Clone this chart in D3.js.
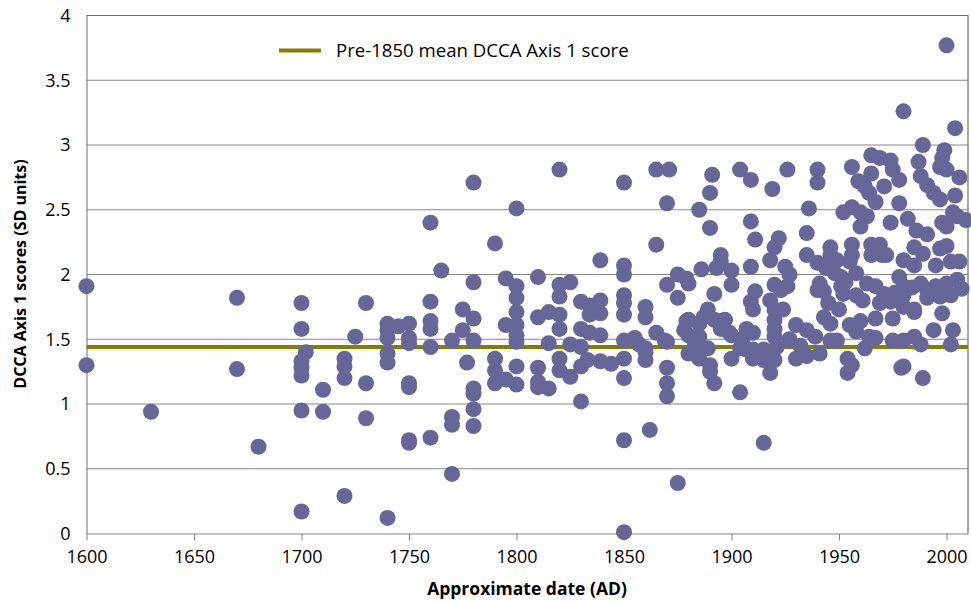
<!DOCTYPE html>
<html>
<head>
<meta charset="utf-8">
<script src="https://cdn.jsdelivr.net/npm/d3@7"></script>
<style>
  html, body { margin: 0; padding: 0; background: #fff; }
  svg { display: block; }
  text { font-family: "Open Sans", "Noto Sans", sans-serif; fill: #000; }
</style>
</head>
<body>
<svg id="chart" width="971" height="601"></svg>
<script>
// Sample dates (AD) and their DCCA Axis 1 scores, paired by index
const years = [
  1600, 1600, 1630, 1670, 1670, 1680,
  1700, 1700, 1702, 1700, 1700, 1700, 1700, 1700,
  1710, 1710, 1720, 1720, 1720, 1720, 1725,
  1730, 1730, 1730,
  1740, 1740, 1740, 1740, 1740, 1740, 1745,
  1750, 1750, 1750, 1750, 1750, 1750, 1750,
  1760, 1760, 1760, 1760, 1760, 1760, 1765,
  1770, 1770, 1770, 1770, 1775, 1775, 1777,
  1780, 1780, 1780, 1780, 1780, 1780, 1780, 1780,
  1790, 1790, 1790, 1790, 1795, 1795, 1795,
  1800, 1800, 1800, 1800, 1800, 1800, 1800, 1800, 1800,
  1810, 1810, 1810, 1810, 1810, 1815, 1815, 1815,
  1820, 1820, 1820, 1820, 1820, 1820, 1820,
  1825, 1825, 1825,
  1830, 1830, 1830, 1830, 1830, 1833, 1834, 1834, 1834,
  1839, 1839, 1839, 1839, 1839, 1844,
  1850, 1850, 1850, 1850, 1850, 1850, 1850, 1850, 1850, 1850, 1850,
  1855, 1860, 1860, 1860, 1860, 1860, 1862,
  1865, 1865, 1865, 1869,
  1871, 1870, 1870, 1870, 1870, 1870, 1870,
  1875, 1875, 1875, 1879, 1879, 1880, 1880, 1880, 1880, 1878,
  1885, 1885, 1885, 1885, 1886, 1887, 1889, 1889,
  1890, 1890, 1890, 1890, 1891, 1892, 1892, 1892,
  1895, 1895, 1893, 1895, 1895, 1897,
  1900, 1900, 1900, 1900, 1899,
  1904, 1904, 1904, 1907, 1907,
  1909, 1909, 1909, 1909, 1910, 1910, 1910, 1910, 1911, 1911,
  1915, 1915, 1915, 1918, 1918, 1918, 1919,
  1920, 1920, 1920, 1920, 1920, 1920, 1920, 1921, 1922, 1923, 1924, 1925,
  1926, 1926, 1927, 1927, 1930, 1930,
  1935, 1935, 1935, 1935, 1936, 1939,
  1940, 1940, 1940, 1940, 1941, 1941, 1943, 1943, 1945,
  1946, 1946, 1946, 1946, 1948, 1949, 1950, 1949, 1951, 1951, 1952, 1952,
  1954, 1954, 1956, 1956, 1956, 1956, 1956, 1955, 1955,
  1958, 1958, 1958, 1959, 1960, 1960, 1960, 1962, 1962, 1963, 1963, 1964, 1964,
  1965, 1965, 1965, 1965, 1967, 1967, 1967, 1967,
  1969, 1969, 1969, 1970, 1971, 1971, 1972,
  1974, 1974, 1974, 1975, 1975, 1975, 1978, 1978, 1978, 1979,
  1980, 1980, 1980, 1980, 1980, 1980, 1980, 1982,
  1985, 1985, 1985, 1985, 1985, 1986, 1987, 1988, 1988, 1988,
  1989, 1989, 1989, 1991, 1991, 1991, 1991, 1994, 1994, 1995, 1995,
  1997, 1997, 1997, 1997, 1998, 1998, 1998, 1999,
  2000, 2000, 2000, 2000, 2000, 2002, 2002, 2002, 2003, 2003,
  2004, 2004, 2005, 2005, 2006, 2006, 2007, 2009,
  1993, 1984, 1976, 1961, 1953, 1944, 1932, 1905, 1883, 1857
];
const scores = [
  1.91, 1.30, 0.94, 1.82, 1.27, 0.67,
  1.78, 1.58, 1.40, 1.33, 1.28, 1.22, 0.95, 0.17,
  1.11, 0.94, 1.35, 1.29, 1.20, 0.29, 1.52,
  1.78, 1.16, 0.89,
  1.62, 1.57, 1.51, 1.39, 1.32, 0.12, 1.60,
  1.62, 1.51, 1.47, 1.16, 1.13, 0.72, 0.70,
  2.40, 1.79, 1.64, 1.58, 1.44, 0.74, 2.03,
  1.49, 0.90, 0.84, 0.46, 1.73, 1.57, 1.32,
  2.71, 1.94, 1.66, 1.49, 1.12, 1.08, 0.96, 0.83,
  2.24, 1.35, 1.26, 1.16, 1.97, 1.61, 1.19,
  2.51, 1.91, 1.82, 1.71, 1.61, 1.53, 1.48, 1.29, 1.15,
  1.98, 1.67, 1.28, 1.17, 1.13, 1.71, 1.47, 1.12,
  2.81, 1.92, 1.83, 1.69, 1.58, 1.35, 1.26,
  1.94, 1.46, 1.21,
  1.79, 1.58, 1.44, 1.29, 1.02, 1.34, 1.76, 1.69, 1.55,
  2.11, 1.80, 1.70, 1.53, 1.33, 1.31,
  2.71, 2.07, 2.00, 1.84, 1.78, 1.69, 1.49, 1.35, 1.20, 0.72, 0.01,
  1.51, 1.75, 1.67, 1.43, 1.40, 1.34, 0.80,
  2.81, 2.23, 1.55, 1.49,
  2.81, 2.55, 1.92, 1.48, 1.28, 1.16, 1.06,
  2.00, 1.82, 0.39, 1.97, 1.64, 1.93, 1.65, 1.53, 1.39, 1.57,
  2.50, 1.62, 1.52, 1.35, 2.04, 1.67, 1.73, 1.43,
  2.63, 2.36, 1.30, 1.25, 2.77, 1.85, 1.65, 1.16,
  2.15, 2.10, 2.05, 1.64, 1.58, 1.65,
  2.03, 1.92, 1.53, 1.35, 1.55,
  2.81, 1.43, 1.09, 1.58, 1.42,
  2.73, 2.41, 2.06, 1.79, 1.73, 1.55, 1.42, 1.35, 2.27, 1.87,
  1.42, 1.34, 0.70, 2.11, 1.80, 1.24, 2.66,
  2.21, 1.92, 1.73, 1.65, 1.58, 1.52, 1.34, 1.44, 2.28, 1.88, 1.73, 2.06,
  2.81, 1.91, 2.00, 1.50, 1.61, 1.35,
  2.32, 2.15, 1.57, 1.37, 2.51, 1.52,
  2.81, 2.71, 2.09, 1.88, 1.93, 1.39, 1.87, 1.67, 1.78,
  2.21, 2.15, 1.62, 1.49, 2.01, 1.49, 1.73, 2.11, 1.91, 1.98, 1.85, 2.48,
  1.35, 1.24, 2.83, 2.52, 2.23, 2.15, 1.30, 2.10, 1.61,
  2.01, 1.84, 1.56, 2.72, 2.48, 2.37, 1.64, 2.68, 1.43, 2.45, 1.93, 1.52, 2.63,
  2.92, 2.78, 2.23, 2.15, 1.91, 1.66, 2.56, 1.51,
  2.90, 2.23, 1.78, 2.15, 1.85, 2.68, 2.15,
  2.88, 2.40, 1.79, 1.66, 1.49, 2.81, 2.73, 2.55, 1.98, 1.28,
  3.26, 2.11, 1.91, 1.84, 1.75, 1.49, 1.29, 2.43,
  2.21, 2.07, 1.73, 1.71, 1.52, 2.34, 2.87, 2.76, 1.93, 1.46,
  3.00, 2.16, 1.20, 2.69, 2.31, 1.88, 1.82, 2.63, 1.57, 2.07, 1.91,
  2.83, 2.58, 2.20, 1.83, 2.90, 2.40, 1.70, 2.96,
  3.77, 2.81, 2.37, 2.22, 1.93, 2.10, 1.84, 1.46, 1.57, 2.48,
  3.13, 2.61, 1.96, 2.45, 2.75, 2.10, 1.89, 2.42,
  1.86, 1.90, 1.86, 1.80, 1.94, 2.05, 1.45, 1.50, 1.45, 1.46
];
// Mean score of the samples dated before 1850
const preMean = 1.44;
const xTicks = [1600, 1650, 1700, 1750, 1800, 1850, 1900, 1950, 2000];
const yTicks = [0, 0.5, 1, 1.5, 2, 2.5, 3, 3.5, 4];
const legendLabel = "Pre-1850 mean DCCA Axis 1 score";
const xTitle = "Approximate date (AD)";
const yTitle = "DCCA Axis 1 scores (SD units)";

const svg = d3.select("#chart");
const plot = { left: 86.5, right: 968, top: 15.5, bottom: 533.5 };

const x = d3.scaleLinear().domain([1600, 2010]).range([plot.left, plot.right]);
const y = d3.scaleLinear().domain([0, 4]).range([plot.bottom, plot.top]);

// Horizontal gridlines
svg.append("g")
  .selectAll("line")
  .data(yTicks.filter(d => d > 0))
  .join("line")
  .attr("x1", plot.left).attr("x2", plot.right)
  .attr("y1", d => y(d)).attr("y2", d => y(d))
  .attr("stroke", "#868686").attr("stroke-width", 1);

// Plot frame (top and right edges)
svg.append("path")
  .attr("d", `M${plot.left},${plot.top}H${plot.right}V${plot.bottom}`)
  .attr("fill", "none").attr("stroke", "#707070").attr("stroke-width", 1.2);

// X axis
const xAxis = svg.append("g")
  .attr("transform", `translate(0,${plot.bottom})`)
  .call(d3.axisBottom(x).tickValues(xTicks).tickFormat(d3.format("d"))
    .tickSize(7).tickSizeOuter(0).tickPadding(10));
xAxis.select(".domain").attr("stroke", "#868686").attr("stroke-width", 1.2);
xAxis.selectAll(".tick line").attr("stroke", "#868686");
xAxis.selectAll(".tick text").attr("font-size", 18).attr("font-family", "Open Sans").attr("fill", "#000");

// Y axis
const yAxis = svg.append("g")
  .attr("transform", `translate(${plot.left},0)`)
  .call(d3.axisLeft(y).tickValues(yTicks).tickFormat(d => String(d))
    .tickSize(0).tickSizeOuter(0).tickPadding(16));
yAxis.select(".domain").attr("stroke", "#868686").attr("stroke-width", 1.2);
yAxis.selectAll(".tick text").attr("font-size", 18).attr("font-family", "Open Sans").attr("fill", "#000");

// Pre-1850 mean reference line
svg.append("line")
  .attr("x1", x(1600)).attr("x2", x(2010))
  .attr("y1", y(preMean)).attr("y2", y(preMean))
  .attr("stroke", "#808000").attr("stroke-width", 4);

// Sample points
const points = years.map((yr, i) => ({ year: yr, score: scores[i] }));
svg.append("g")
  .selectAll("circle")
  .data(points)
  .join("circle")
  .attr("cx", d => x(d.year))
  .attr("cy", d => y(d.score))
  .attr("r", 8)
  .attr("fill", "#666699");

// Legend
svg.append("line")
  .attr("x1", 279).attr("x2", 321).attr("y1", 50.5).attr("y2", 50.5)
  .attr("stroke", "#808000").attr("stroke-width", 4);
svg.append("text")
  .attr("x", 336).attr("y", 57)
  .attr("font-size", 18.6)
  .text(legendLabel);

// Axis titles
svg.append("text")
  .attr("x", 527).attr("y", 595)
  .attr("text-anchor", "middle")
  .attr("font-size", 17.5).attr("font-weight", "bold")
  .text(xTitle);
svg.append("text")
  .attr("transform", "translate(26,274) rotate(-90)")
  .attr("text-anchor", "middle")
  .attr("font-size", 16).attr("font-weight", "bold")
  .text(yTitle);
</script>
</body>
</html>
